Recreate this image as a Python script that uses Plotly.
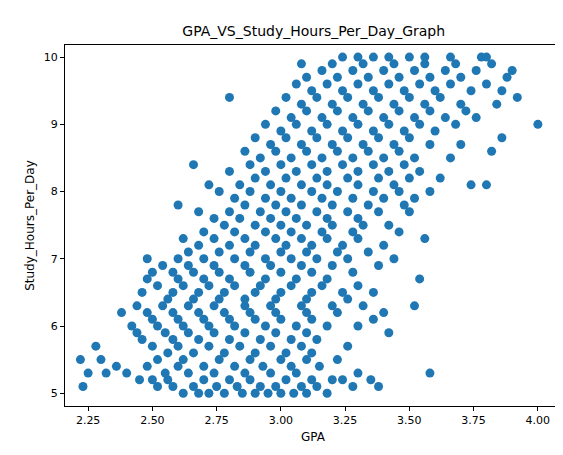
import plotly.graph_objects as go

# Study hours levels and the GPA values observed at each level
hour_levels = [5.0, 5.1, 5.2, 5.3, 5.4, 5.5, 5.6, 5.7, 5.8, 5.9,
               6.0, 6.1, 6.2, 6.3, 6.4, 6.5, 6.6, 6.7, 6.8, 6.9,
               7.0, 7.1, 7.2, 7.3, 7.4, 7.5, 7.6, 7.7, 7.8, 7.9,
               8.0, 8.1, 8.2, 8.3, 8.4, 8.5, 8.6, 8.7, 8.8, 8.9,
               9.0, 9.1, 9.2, 9.3, 9.4, 9.5, 9.6, 9.7, 9.8, 9.9, 10.0]

gpa_rows = [
    [2.62, 2.68, 2.72, 2.78, 2.85, 2.90, 2.95, 3.00, 3.05, 3.10, 3.18],
    [2.23, 2.52, 2.58, 2.66, 2.75, 2.83, 2.92, 2.98, 3.08, 3.14, 3.28, 3.38],
    [2.45, 2.50, 2.56, 2.70, 2.80, 2.88, 3.02, 3.12, 3.20, 3.24, 3.35],
    [2.25, 2.32, 2.40, 2.55, 2.64, 2.74, 2.86, 2.96, 3.06, 3.30, 3.58],
    [2.36, 2.48, 2.60, 2.70, 2.82, 2.93, 3.04, 3.15],
    [2.22, 2.30, 2.52, 2.62, 2.76, 2.88, 3.00, 3.10, 3.22],
    [2.56, 2.66, 2.78, 2.90, 3.02, 3.12],
    [2.28, 2.50, 2.60, 2.72, 2.84, 2.96, 3.08, 3.26],
    [2.46, 2.58, 2.68, 2.80, 2.92, 3.04, 3.14],
    [2.44, 2.55, 2.64, 2.74, 2.86, 2.98, 3.10, 3.42],
    [2.42, 2.52, 2.62, 2.72, 2.82, 2.94, 3.06, 3.18, 3.30],
    [2.50, 2.60, 2.70, 2.80, 2.90, 3.00, 3.12, 3.36],
    [2.38, 2.48, 2.58, 2.68, 2.78, 2.88, 2.98, 3.10, 3.22, 3.40],
    [2.44, 2.54, 2.64, 2.74, 2.86, 2.96, 3.08, 3.20, 3.32, 3.52],
    [2.56, 2.66, 2.76, 2.86, 2.98, 3.10, 3.26],
    [2.46, 2.58, 2.68, 2.78, 2.90, 3.00, 3.12, 3.24, 3.36],
    [2.52, 2.62, 2.72, 2.82, 2.92, 3.04, 3.16, 3.30],
    [2.48, 2.60, 2.70, 2.80, 2.94, 3.06, 3.18, 3.54],
    [2.50, 2.58, 2.66, 2.76, 2.88, 3.00, 3.12, 3.28],
    [2.54, 2.64, 2.74, 2.86, 2.96, 3.08, 3.20, 3.38],
    [2.48, 2.60, 2.70, 2.82, 2.94, 3.04, 3.14, 3.26, 3.44],
    [2.64, 2.76, 2.88, 3.00, 3.10, 3.22, 3.34],
    [2.68, 2.80, 2.90, 3.02, 3.12, 3.24, 3.40],
    [2.62, 2.74, 2.86, 2.98, 3.08, 3.18, 3.30, 3.56],
    [2.70, 2.82, 2.94, 3.04, 3.16, 3.28, 3.46],
    [2.78, 2.90, 3.00, 3.10, 3.20, 3.32, 3.42],
    [2.74, 2.84, 2.96, 3.06, 3.18, 3.30],
    [2.68, 2.80, 2.92, 3.02, 3.14, 3.26, 3.38, 3.50],
    [2.60, 2.86, 2.98, 3.08, 3.20, 3.34, 3.48],
    [2.82, 2.94, 3.04, 3.16, 3.28, 3.40, 3.52],
    [2.76, 2.88, 3.00, 3.12, 3.22, 3.36, 3.46, 3.58],
    [2.72, 2.84, 2.96, 3.08, 3.18, 3.30, 3.44, 3.74, 3.80],
    [2.90, 3.02, 3.14, 3.26, 3.38, 3.50, 3.62],
    [2.80, 2.94, 3.06, 3.18, 3.30, 3.42, 3.54],
    [2.66, 2.88, 3.00, 3.12, 3.24, 3.36, 3.48],
    [2.92, 3.04, 3.16, 3.28, 3.40, 3.52, 3.66],
    [2.86, 2.98, 3.10, 3.22, 3.34, 3.46, 3.82],
    [2.96, 3.08, 3.20, 3.32, 3.44, 3.58, 3.70],
    [2.90, 3.02, 3.14, 3.26, 3.38, 3.50, 3.86],
    [3.00, 3.12, 3.24, 3.36, 3.48, 3.60],
    [2.94, 3.06, 3.18, 3.30, 3.42, 3.54, 3.68, 4.00],
    [3.04, 3.16, 3.28, 3.40, 3.52, 3.64, 3.76],
    [2.98, 3.10, 3.22, 3.34, 3.46, 3.58, 3.72],
    [3.08, 3.20, 3.32, 3.44, 3.56, 3.70, 3.84],
    [2.80, 3.02, 3.14, 3.26, 3.38, 3.50, 3.62, 3.92],
    [3.12, 3.24, 3.36, 3.48, 3.60, 3.74, 3.86],
    [3.06, 3.18, 3.30, 3.42, 3.54, 3.66, 3.80],
    [3.10, 3.22, 3.34, 3.46, 3.58, 3.70, 3.88],
    [3.16, 3.28, 3.40, 3.52, 3.64, 3.76, 3.90],
    [3.08, 3.20, 3.32, 3.44, 3.56, 3.68, 3.82],
    [3.24, 3.30, 3.36, 3.42, 3.50, 3.56, 3.66, 3.78, 3.80],
]

gpa = []
hours = []
for h, row in zip(hour_levels, gpa_rows):
    for g in row:
        gpa.append(g)
        hours.append(h)

fig = go.Figure(go.Scatter(
    x=gpa, y=hours, mode="markers",
    marker=dict(color="#1f77b4", size=9, line=dict(width=0)),
))

axis_style = dict(
    showline=True, linecolor="black", linewidth=1, mirror=True,
    ticks="outside", ticklen=4, tickcolor="black", showgrid=False,
    zeroline=False, tickfont=dict(size=11, color="black"), automargin=False,
)
fig.update_xaxes(range=[2.16, 4.09], tickvals=[2.25, 2.5, 2.75, 3.0, 3.25, 3.5, 3.75, 4.0],
                 ticktext=["2.25", "2.50", "2.75", "3.00", "3.25", "3.50", "3.75", "4.00"],
                 title=dict(text="GPA", font=dict(size=12, color="black"), standoff=6),
                 **axis_style)
fig.update_yaxes(range=[4.81, 10.18], tickvals=[5, 6, 7, 8, 9, 10],
                 title=dict(text="Study_Hours_Per_Day", font=dict(size=12, color="black"), standoff=6),
                 **axis_style)
fig.update_layout(
    width=563, height=455,
    margin=dict(l=57, r=10, t=37, b=57),
    plot_bgcolor="white", paper_bgcolor="white",
    font=dict(family="DejaVu Sans", color="black"),
    title=dict(text="GPA_VS_Study_Hours_Per_Day_Graph", x=0.543, xanchor="center",
               y=0.96, font=dict(size=14, color="black")),
    showlegend=False,
)
fig.write_html("out.html")
